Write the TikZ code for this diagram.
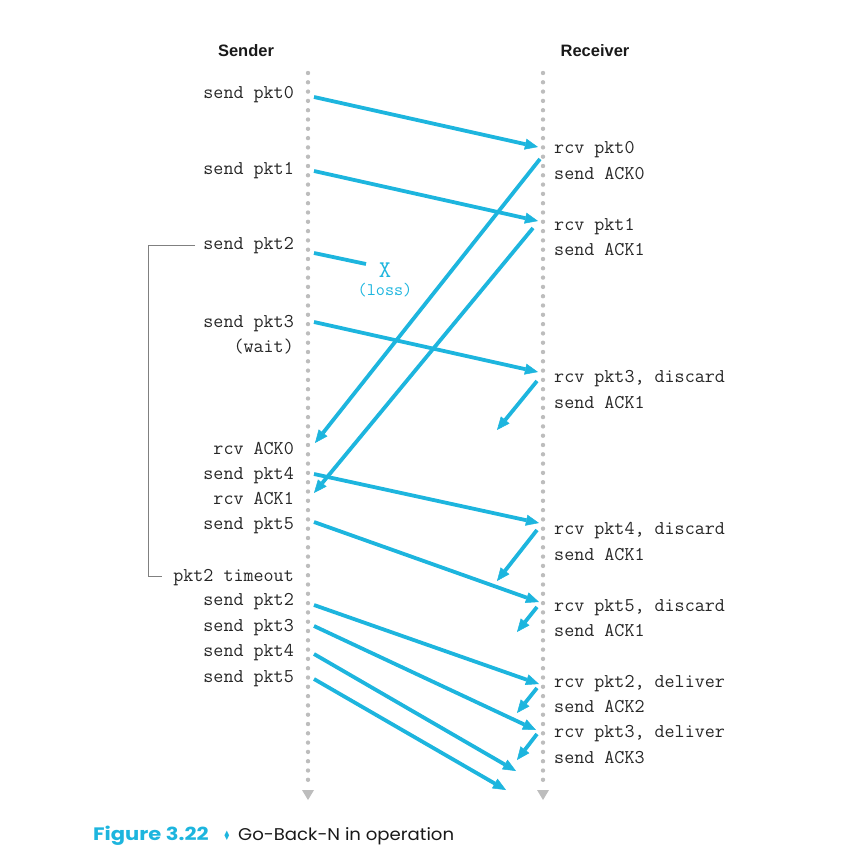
\documentclass[tikz,border=0pt]{standalone}
\usepackage{fontspec}
\setmainfont{Liberation Sans}
\newfontfamily\capfont{Poppins}[FakeStretch=1.065]
\newfontfamily\capfontb{Poppins}[FakeStretch=1.17]
\newfontfamily\symfont{DejaVu Sans}
\usetikzlibrary{arrows.meta}
\definecolor{pktblue}{HTML}{1DB5DE}
\definecolor{lifegray}{HTML}{BDBDBD}
\definecolor{brgray}{HTML}{808080}
\begin{document}
\begin{tikzpicture}[x=1pt,y=-1pt,
  lifeline/.style={draw=lifegray, line width=4.4pt, line cap=round, dash pattern=on 0pt off 9.3pt},
  lifetip/.style={fill=lifegray},
  pkt/.style={draw=pktblue, line width=3.8pt, -{Triangle[length=13pt,width=11pt,line width=0.5pt]}},
  lostpkt/.style={draw=pktblue, line width=3.8pt},
  lbl/.style={font=\ttfamily\fontsize{19.5}{21}\selectfont, inner sep=0pt, text=black!85},
  head/.style={font=\bfseries\fontsize{16.5}{18}\selectfont, inner sep=0pt, text=black!90},
  bracket/.style={draw=brgray, line width=1pt}
]
\useasboundingbox (0,0) rectangle (856,866);

% headers
\node[head, anchor=base] (hs) at (246,57) {Sender};
\node[head, anchor=base] (hr) at (595,57) {Receiver};

% lifelines
\coordinate (sTop) at (308,73);
\coordinate (sBot) at (308,786);
\coordinate (rTop) at (543,73);
\coordinate (rBot) at (543,786);
\draw[lifeline] (sTop) -- (sBot);
\draw[lifeline] (rTop) -- (rBot);
\fill[lifetip] (302,790) -- (314,790) -- (308,800) -- cycle;
\fill[lifetip] (537,790) -- (549,790) -- (543,800) -- cycle;

% sender labels
\node[lbl, anchor=base east] (ls0) at (294,99) {send pkt0};
\node[lbl, anchor=base east] (ls1) at (294,175) {send pkt1};
\node[lbl, anchor=base east] (ls2) at (294,250) {send pkt2};
\node[lbl, anchor=base east] (ls3) at (294,327) {send pkt3};
\node[lbl, anchor=base east] (lw) at (294,352) {(wait)};
\node[lbl, anchor=base east] (la0) at (294,454) {rcv ACK0};
\node[lbl, anchor=base east] (ls4) at (294,479) {send pkt4};
\node[lbl, anchor=base east] (la1) at (294,504) {rcv ACK1};
\node[lbl, anchor=base east] (ls5) at (294,529) {send pkt5};
\node[lbl, anchor=base east] (lto) at (294,581) {pkt2 timeout};
\node[lbl, anchor=base east] (lr2) at (294,605) {send pkt2};
\node[lbl, anchor=base east] (lr3) at (294,631) {send pkt3};
\node[lbl, anchor=base east] (lr4) at (294,656) {send pkt4};
\node[lbl, anchor=base east] (lr5) at (294,682) {send pkt5};

% receiver labels
\node[lbl, anchor=base west] (rr0) at (554,154) {rcv pkt0};
\node[lbl, anchor=base west] (ra0) at (554,180) {send ACK0};
\node[lbl, anchor=base west] (rr1) at (554,231) {rcv pkt1};
\node[lbl, anchor=base west] (ra1) at (554,256) {send ACK1};
\node[lbl, anchor=base west] (rr3) at (554,382) {rcv pkt3, discard};
\node[lbl, anchor=base west] (ra1b) at (554,408) {send ACK1};
\node[lbl, anchor=base west] (rr4) at (554,534) {rcv pkt4, discard};
\node[lbl, anchor=base west] (ra1c) at (554,560) {send ACK1};
\node[lbl, anchor=base west] (rr5) at (554,611) {rcv pkt5, discard};
\node[lbl, anchor=base west] (ra1d) at (554,636) {send ACK1};
\node[lbl, anchor=base west] (rd2) at (554,687) {rcv pkt2, deliver};
\node[lbl, anchor=base west] (ra2) at (554,712) {send ACK2};
\node[lbl, anchor=base west] (rd3) at (554,737) {rcv pkt3, deliver};
\node[lbl, anchor=base west] (ra3) at (554,763) {send ACK3};

% loss marker
\node[font=\ttfamily\fontsize{24}{26}\selectfont, inner sep=0pt, text=pktblue, anchor=base] (lx) at (385,277) {X};
\node[font=\ttfamily\fontsize{17.7}{19}\selectfont, inner sep=0pt, text=pktblue, anchor=base] (ll) at (385,295) {(loss)};

% timeout bracket
\coordinate (bt) at (195,246);
\coordinate (bb) at (162,576);
\draw[bracket] (bt) -- (148,246) |- (bb);

% endpoints
\coordinate (p0a) at (314,97);  \coordinate (p0b) at (538,147);
\coordinate (p1a) at (314,171); \coordinate (p1b) at (538,221);
\coordinate (p2a) at (314,253); \coordinate (p2b) at (366,264);
\coordinate (p3a) at (314,322); \coordinate (p3b) at (538,372);
\coordinate (k0a) at (540,159); \coordinate (k0b) at (315,443);
\coordinate (k1a) at (533,228); \coordinate (k1b) at (314,493);
\coordinate (k1ba) at (537,381); \coordinate (k1bb) at (497,430);
\coordinate (p4a) at (314,474); \coordinate (p4b) at (539,523);
\coordinate (k1ca) at (537,530); \coordinate (k1cb) at (497,581);
\coordinate (p5a) at (314,522); \coordinate (p5b) at (539,602);
\coordinate (k1da) at (537,607); \coordinate (k1db) at (517,632);
\coordinate (q2a) at (314,605); \coordinate (q2b) at (539,684);
\coordinate (k2a) at (537,688); \coordinate (k2b) at (517,713);
\coordinate (q3a) at (314,626); \coordinate (q3b) at (536,730);
\coordinate (k3a) at (537,734); \coordinate (k3b) at (517,760);
\coordinate (q4a) at (314,654); \coordinate (q4b) at (516,771);
\coordinate (q5a) at (314,679); \coordinate (q5b) at (506,790);

\draw[pkt] (p0a) -- (p0b);
\draw[pkt] (p1a) -- (p1b);
\draw[lostpkt] (p2a) -- (p2b);
\draw[pkt] (p3a) -- (p3b);
\draw[pkt] (k0a) -- (k0b);
\draw[pkt] (k1a) -- (k1b);
\draw[pkt] (k1ba) -- (k1bb);
\draw[pkt] (p4a) -- (p4b);
\draw[pkt] (k1ca) -- (k1cb);
\draw[pkt] (p5a) -- (p5b);
\draw[pkt] (k1da) -- (k1db);
\draw[pkt] (q2a) -- (q2b);
\draw[pkt] (k2a) -- (k2b);
\draw[pkt] (q3a) -- (q3b);
\draw[pkt] (k3a) -- (k3b);
\draw[pkt] (q4a) -- (q4b);
\draw[pkt] (q5a) -- (q5b);

% caption
\node[font=\capfontb\bfseries\fontsize{18}{20}\selectfont, text=pktblue, inner sep=0pt, anchor=base west] (cfig) at (93,840) {Figure 3.22};
\node[font=\symfont\fontsize{13}{15}\selectfont, text=pktblue, inner sep=0pt, anchor=base] (cdia) at (227,840) {\scalebox{0.65}[1]{♦}};
\node[font=\capfont\fontsize{17}{20}\selectfont, text=black!90, inner sep=0pt, anchor=base west] (ctxt) at (238,840) {Go-Back-N in operation};
\end{tikzpicture}
\end{document}
